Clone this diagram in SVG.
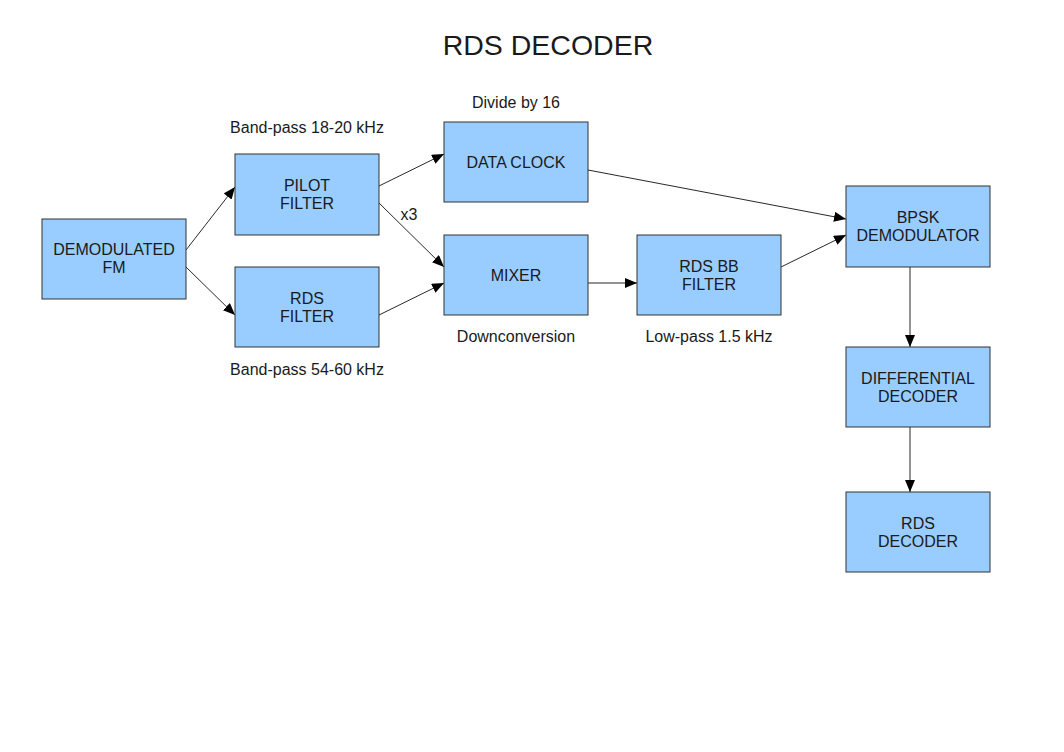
<svg xmlns="http://www.w3.org/2000/svg" width="1064" height="752" viewBox="0 0 1064 752">
<style>
.box{fill:#99ccff;stroke:#333;stroke-width:1}
.t{font-family:"Liberation Sans",Arial,sans-serif;font-size:16px;fill:#1a1a1a;text-anchor:middle}
.lbl{font-family:"Liberation Sans",Arial,sans-serif;font-size:16px;fill:#1a1a1a;text-anchor:middle}
.c{stroke:#111;stroke-width:0.9;fill:none;marker-end:url(#ah)}
</style>
<defs>
<marker id="ah" viewBox="0 0 12 10" refX="12" refY="5" markerWidth="12" markerHeight="10" markerUnits="userSpaceOnUse" orient="auto">
<path d="M0,0 L12,5 L0,10 Z" fill="#000"/>
</marker>
</defs>
<rect width="1064" height="752" fill="#fff"/>
<text x="548" y="55" font-family="Liberation Sans,Arial,sans-serif" font-size="28.5" fill="#1a1a1a" text-anchor="middle">RDS DECODER</text>
<g id="connectors">
<line class="c" x1="186" y1="250" x2="235" y2="187"/>
<line class="c" x1="186" y1="267" x2="235" y2="315"/>
<line class="c" x1="379" y1="186" x2="444" y2="154"/>
<line class="c" x1="379" y1="203" x2="444" y2="267"/>
<line class="c" x1="379" y1="315" x2="444" y2="283"/>
<line class="c" x1="588" y1="170" x2="846" y2="219"/>
<line class="c" x1="588" y1="283" x2="637" y2="283"/>
<line class="c" x1="781" y1="267" x2="846" y2="235"/>
<line class="c" x1="910" y1="267" x2="910" y2="347"/>
<line class="c" x1="910" y1="427" x2="910" y2="492"/>
</g>
<g id="labels">
<text class="lbl" x="307" y="133">Band-pass 18-20 kHz</text>
<text class="lbl" x="516" y="108">Divide by 16</text>
<text class="lbl" x="409" y="220">x3</text>
<text class="lbl" x="307" y="375">Band-pass 54-60 kHz</text>
<text class="lbl" x="516" y="342">Downconversion</text>
<text class="lbl" x="709" y="342">Low-pass 1.5 kHz</text>
</g>
<g id="demodulated-fm">
<rect class="box" x="42" y="219" width="144" height="80"/>
<text class="t" x="114" y="255">DEMODULATED</text>
<text class="t" x="114" y="273">FM</text>
</g>
<g id="pilot-filter">
<rect class="box" x="235" y="154" width="144" height="81"/>
<text class="t" x="307" y="191">PILOT</text>
<text class="t" x="307" y="209">FILTER</text>
</g>
<g id="rds-filter">
<rect class="box" x="235" y="267" width="144" height="80"/>
<text class="t" x="307" y="304">RDS</text>
<text class="t" x="307" y="322">FILTER</text>
</g>
<g id="data-clock">
<rect class="box" x="444" y="122" width="144" height="80"/>
<text class="t" x="516" y="168">DATA CLOCK</text>
</g>
<g id="mixer">
<rect class="box" x="444" y="235" width="144" height="80"/>
<text class="t" x="516" y="281">MIXER</text>
</g>
<g id="rds-bb-filter">
<rect class="box" x="637" y="235" width="144" height="80"/>
<text class="t" x="709" y="272">RDS BB</text>
<text class="t" x="709" y="290">FILTER</text>
</g>
<g id="bpsk-demodulator">
<rect class="box" x="846" y="186" width="144" height="81"/>
<text class="t" x="918" y="223">BPSK</text>
<text class="t" x="918" y="241">DEMODULATOR</text>
</g>
<g id="differential-decoder">
<rect class="box" x="846" y="347" width="144" height="80"/>
<text class="t" x="918" y="384">DIFFERENTIAL</text>
<text class="t" x="918" y="402">DECODER</text>
</g>
<g id="rds-decoder">
<rect class="box" x="846" y="492" width="144" height="80"/>
<text class="t" x="918" y="529">RDS</text>
<text class="t" x="918" y="547">DECODER</text>
</g>
</svg>
